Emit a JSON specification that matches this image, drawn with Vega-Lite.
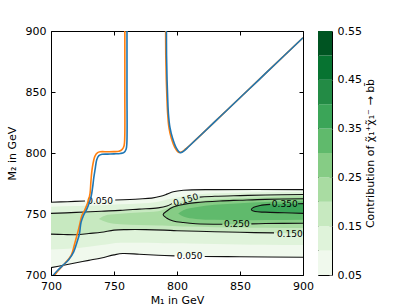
{
  "$schema": "https://vega.github.io/schema/vega-lite/v6.json",
  "padding": {"left": 5, "top": 24, "right": 5, "bottom": 2},
  "config": {
    "font": "DejaVu Sans",
    "view": {"stroke": "#000", "strokeWidth": 1},
    "axis": {"labelFont": "DejaVu Sans", "titleFont": "DejaVu Sans", "labelFontSize": 11, "titleFontSize": 11, "titleFontWeight": "normal", "labelColor": "#000", "titleColor": "#000", "tickColor": "#000", "grid": false, "domain": false, "labelFlush": false}
  },
  "datasets": {
    "bands": [
      {"level": 0.05, "M1": 700, "lo": 706, "hi": 759.6},
      {"level": 0.05, "M1": 720, "lo": 710, "hi": 760.3},
      {"level": 0.05, "M1": 740, "lo": 714, "hi": 761},
      {"level": 0.05, "M1": 755, "lo": 717.5, "hi": 761.7},
      {"level": 0.05, "M1": 770, "lo": 717, "hi": 762.3},
      {"level": 0.05, "M1": 785, "lo": 716.2, "hi": 764.3},
      {"level": 0.05, "M1": 792, "lo": 716, "hi": 766.5},
      {"level": 0.05, "M1": 800, "lo": 715.6, "hi": 768.8},
      {"level": 0.05, "M1": 810, "lo": 715.4, "hi": 769.6},
      {"level": 0.05, "M1": 830, "lo": 715.2, "hi": 770},
      {"level": 0.05, "M1": 850, "lo": 715, "hi": 770},
      {"level": 0.05, "M1": 870, "lo": 714.8, "hi": 770},
      {"level": 0.05, "M1": 900, "lo": 714.5, "hi": 770},
      {"level": 0.1, "M1": 700, "lo": 721, "hi": 756},
      {"level": 0.1, "M1": 720, "lo": 722, "hi": 756.5},
      {"level": 0.1, "M1": 740, "lo": 724.5, "hi": 757.2},
      {"level": 0.1, "M1": 755, "lo": 726.5, "hi": 758},
      {"level": 0.1, "M1": 770, "lo": 726.5, "hi": 758.6},
      {"level": 0.1, "M1": 785, "lo": 726.2, "hi": 760},
      {"level": 0.1, "M1": 792, "lo": 726, "hi": 761.8},
      {"level": 0.1, "M1": 800, "lo": 726, "hi": 763.5},
      {"level": 0.1, "M1": 810, "lo": 725.8, "hi": 765.3},
      {"level": 0.1, "M1": 830, "lo": 725.5, "hi": 767},
      {"level": 0.1, "M1": 850, "lo": 725, "hi": 767.5},
      {"level": 0.1, "M1": 870, "lo": 724.8, "hi": 767.8},
      {"level": 0.1, "M1": 900, "lo": 724.5, "hi": 768},
      {"level": 0.15, "M1": 700, "lo": 733.5, "hi": 750.5},
      {"level": 0.15, "M1": 720, "lo": 733, "hi": 751.3},
      {"level": 0.15, "M1": 740, "lo": 735, "hi": 752.3},
      {"level": 0.15, "M1": 755, "lo": 737, "hi": 753},
      {"level": 0.15, "M1": 770, "lo": 737.2, "hi": 754},
      {"level": 0.15, "M1": 785, "lo": 737, "hi": 755},
      {"level": 0.15, "M1": 792, "lo": 736.8, "hi": 756.5},
      {"level": 0.15, "M1": 800, "lo": 736.3, "hi": 759.5},
      {"level": 0.15, "M1": 810, "lo": 736, "hi": 762},
      {"level": 0.15, "M1": 830, "lo": 735.5, "hi": 764.5},
      {"level": 0.15, "M1": 850, "lo": 735, "hi": 765.1},
      {"level": 0.15, "M1": 870, "lo": 734.5, "hi": 765.6},
      {"level": 0.15, "M1": 900, "lo": 734, "hi": 766},
      {"level": 0.2, "M1": 738, "lo": 746, "hi": 746},
      {"level": 0.2, "M1": 745, "lo": 743, "hi": 749.3},
      {"level": 0.2, "M1": 755, "lo": 741.5, "hi": 750.3},
      {"level": 0.2, "M1": 770, "lo": 741, "hi": 751.2},
      {"level": 0.2, "M1": 785, "lo": 740.5, "hi": 752.3},
      {"level": 0.2, "M1": 792, "lo": 740.3, "hi": 754.5},
      {"level": 0.2, "M1": 800, "lo": 740, "hi": 757.3},
      {"level": 0.2, "M1": 810, "lo": 739.7, "hi": 759.4},
      {"level": 0.2, "M1": 830, "lo": 739.2, "hi": 761.9},
      {"level": 0.2, "M1": 850, "lo": 739, "hi": 763},
      {"level": 0.2, "M1": 870, "lo": 738.7, "hi": 763.8},
      {"level": 0.2, "M1": 900, "lo": 738.5, "hi": 764.5},
      {"level": 0.25, "M1": 789, "lo": 749.5, "hi": 749.5},
      {"level": 0.25, "M1": 792, "lo": 747, "hi": 752.5},
      {"level": 0.25, "M1": 797, "lo": 744.3, "hi": 755.7},
      {"level": 0.25, "M1": 805, "lo": 743, "hi": 757.8},
      {"level": 0.25, "M1": 815, "lo": 742, "hi": 759.3},
      {"level": 0.25, "M1": 834, "lo": 741.5, "hi": 760.7},
      {"level": 0.25, "M1": 850, "lo": 741.8, "hi": 761.3},
      {"level": 0.25, "M1": 870, "lo": 742.2, "hi": 762},
      {"level": 0.25, "M1": 900, "lo": 742.4, "hi": 762.5},
      {"level": 0.3, "M1": 801, "lo": 750.5, "hi": 750.5},
      {"level": 0.3, "M1": 805, "lo": 748, "hi": 753},
      {"level": 0.3, "M1": 815, "lo": 746, "hi": 755.5},
      {"level": 0.3, "M1": 830, "lo": 745.2, "hi": 757.5},
      {"level": 0.3, "M1": 850, "lo": 744.8, "hi": 758.8},
      {"level": 0.3, "M1": 870, "lo": 745, "hi": 759.8},
      {"level": 0.3, "M1": 900, "lo": 745.3, "hi": 760.5},
      {"level": 0.35, "M1": 859, "lo": 753.5, "hi": 753.5},
      {"level": 0.35, "M1": 863, "lo": 752, "hi": 756},
      {"level": 0.35, "M1": 870, "lo": 751.5, "hi": 757.7},
      {"level": 0.35, "M1": 885, "lo": 751, "hi": 758.2},
      {"level": 0.35, "M1": 900, "lo": 750.5, "hi": 758.5}
    ],
    "clines": [
      {"seg": "a1", "i": 0, "M1": 700, "M2": 759.6},
      {"seg": "a1", "i": 1, "M1": 713, "M2": 760.1},
      {"seg": "a1", "i": 2, "M1": 727, "M2": 760.6},
      {"seg": "a2", "i": 0, "M1": 751, "M2": 761.5},
      {"seg": "a2", "i": 1, "M1": 770, "M2": 762.3},
      {"seg": "a2", "i": 2, "M1": 780, "M2": 763},
      {"seg": "a2", "i": 3, "M1": 787, "M2": 764.5},
      {"seg": "a2", "i": 4, "M1": 792, "M2": 766.3},
      {"seg": "a2", "i": 5, "M1": 797, "M2": 768.3},
      {"seg": "a2", "i": 6, "M1": 805, "M2": 769.5},
      {"seg": "a2", "i": 7, "M1": 830, "M2": 770},
      {"seg": "a2", "i": 8, "M1": 900, "M2": 770},
      {"seg": "b1", "i": 0, "M1": 700, "M2": 706},
      {"seg": "b1", "i": 1, "M1": 710, "M2": 708},
      {"seg": "b1", "i": 2, "M1": 720, "M2": 710},
      {"seg": "b1", "i": 3, "M1": 730, "M2": 712},
      {"seg": "b1", "i": 4, "M1": 740, "M2": 714},
      {"seg": "b1", "i": 5, "M1": 750, "M2": 716.5},
      {"seg": "b1", "i": 6, "M1": 757, "M2": 717.6},
      {"seg": "b1", "i": 7, "M1": 770, "M2": 717},
      {"seg": "b1", "i": 8, "M1": 785, "M2": 716.2},
      {"seg": "b1", "i": 9, "M1": 798, "M2": 715.7},
      {"seg": "b2", "i": 0, "M1": 822, "M2": 715.2},
      {"seg": "b2", "i": 1, "M1": 850, "M2": 715},
      {"seg": "b2", "i": 2, "M1": 900, "M2": 714.5},
      {"seg": "c1", "i": 0, "M1": 700, "M2": 750.5},
      {"seg": "c1", "i": 1, "M1": 720, "M2": 751.3},
      {"seg": "c1", "i": 2, "M1": 740, "M2": 752.3},
      {"seg": "c1", "i": 3, "M1": 755, "M2": 753},
      {"seg": "c1", "i": 4, "M1": 770, "M2": 754},
      {"seg": "c1", "i": 5, "M1": 785, "M2": 755},
      {"seg": "c1", "i": 6, "M1": 792, "M2": 756.5},
      {"seg": "c1", "i": 7, "M1": 796, "M2": 758.5},
      {"seg": "c2", "i": 0, "M1": 818, "M2": 763.8},
      {"seg": "c2", "i": 1, "M1": 830, "M2": 764.5},
      {"seg": "c2", "i": 2, "M1": 850, "M2": 765.1},
      {"seg": "c2", "i": 3, "M1": 870, "M2": 765.6},
      {"seg": "c2", "i": 4, "M1": 900, "M2": 766},
      {"seg": "d1", "i": 0, "M1": 700, "M2": 733.5},
      {"seg": "d1", "i": 1, "M1": 710, "M2": 733.2},
      {"seg": "d1", "i": 2, "M1": 720, "M2": 733},
      {"seg": "d1", "i": 3, "M1": 730, "M2": 734},
      {"seg": "d1", "i": 4, "M1": 740, "M2": 735},
      {"seg": "d1", "i": 5, "M1": 750, "M2": 736.8},
      {"seg": "d1", "i": 6, "M1": 760, "M2": 737.2},
      {"seg": "d1", "i": 7, "M1": 775, "M2": 737.2},
      {"seg": "d1", "i": 8, "M1": 790, "M2": 736.8},
      {"seg": "d1", "i": 9, "M1": 800, "M2": 736.3},
      {"seg": "d1", "i": 10, "M1": 830, "M2": 735.5},
      {"seg": "d1", "i": 11, "M1": 850, "M2": 735},
      {"seg": "d1", "i": 12, "M1": 877, "M2": 734.5},
      {"seg": "e1", "i": 0, "M1": 836, "M2": 741.6},
      {"seg": "e1", "i": 1, "M1": 815, "M2": 742},
      {"seg": "e1", "i": 2, "M1": 805, "M2": 743},
      {"seg": "e1", "i": 3, "M1": 797, "M2": 744.3},
      {"seg": "e1", "i": 4, "M1": 792, "M2": 746.5},
      {"seg": "e1", "i": 5, "M1": 789, "M2": 749.5},
      {"seg": "e1", "i": 6, "M1": 792, "M2": 752.5},
      {"seg": "e1", "i": 7, "M1": 797, "M2": 755.7},
      {"seg": "e1", "i": 8, "M1": 805, "M2": 757.8},
      {"seg": "e1", "i": 9, "M1": 815, "M2": 759.3},
      {"seg": "e1", "i": 10, "M1": 834, "M2": 760.7},
      {"seg": "e1", "i": 11, "M1": 850, "M2": 761.3},
      {"seg": "e1", "i": 12, "M1": 870, "M2": 762},
      {"seg": "e1", "i": 13, "M1": 900, "M2": 762.5},
      {"seg": "e2", "i": 0, "M1": 859, "M2": 741.9},
      {"seg": "e2", "i": 1, "M1": 870, "M2": 742.2},
      {"seg": "e2", "i": 2, "M1": 900, "M2": 742.4},
      {"seg": "f1", "i": 0, "M1": 874, "M2": 757.9},
      {"seg": "f1", "i": 1, "M1": 866, "M2": 757},
      {"seg": "f1", "i": 2, "M1": 861, "M2": 755.5},
      {"seg": "f1", "i": 3, "M1": 859, "M2": 753.5},
      {"seg": "f1", "i": 4, "M1": 862, "M2": 752},
      {"seg": "f1", "i": 5, "M1": 870, "M2": 751.5},
      {"seg": "f1", "i": 6, "M1": 885, "M2": 751},
      {"seg": "f1", "i": 7, "M1": 900, "M2": 750.5},
      {"seg": "f2", "i": 0, "M1": 896, "M2": 758.4},
      {"seg": "f2", "i": 1, "M1": 900, "M2": 758.5}
    ],
    "curves": [
      {"c": "orange", "seg": "L", "i": 0, "M1": 703, "M2": 700},
      {"c": "orange", "seg": "L", "i": 1, "M1": 706, "M2": 704},
      {"c": "orange", "seg": "L", "i": 2, "M1": 711, "M2": 709.5},
      {"c": "orange", "seg": "L", "i": 3, "M1": 716, "M2": 716},
      {"c": "orange", "seg": "L", "i": 4, "M1": 719, "M2": 726.5},
      {"c": "orange", "seg": "L", "i": 5, "M1": 721, "M2": 734},
      {"c": "orange", "seg": "L", "i": 6, "M1": 722.5, "M2": 740.2},
      {"c": "orange", "seg": "L", "i": 7, "M1": 724.4, "M2": 748.4},
      {"c": "orange", "seg": "L", "i": 8, "M1": 727, "M2": 753.8},
      {"c": "orange", "seg": "L", "i": 9, "M1": 729.6, "M2": 760.7},
      {"c": "orange", "seg": "L", "i": 10, "M1": 731, "M2": 767},
      {"c": "orange", "seg": "L", "i": 11, "M1": 731.7, "M2": 777},
      {"c": "orange", "seg": "L", "i": 12, "M1": 732.8, "M2": 788},
      {"c": "orange", "seg": "L", "i": 13, "M1": 734.9, "M2": 797.5},
      {"c": "orange", "seg": "L", "i": 14, "M1": 737, "M2": 800.3},
      {"c": "orange", "seg": "L", "i": 15, "M1": 739, "M2": 801},
      {"c": "orange", "seg": "L", "i": 16, "M1": 745, "M2": 801},
      {"c": "orange", "seg": "L", "i": 17, "M1": 750, "M2": 801.1},
      {"c": "orange", "seg": "L", "i": 18, "M1": 754, "M2": 801.5},
      {"c": "orange", "seg": "L", "i": 19, "M1": 756.5, "M2": 803},
      {"c": "orange", "seg": "L", "i": 20, "M1": 758, "M2": 806},
      {"c": "orange", "seg": "L", "i": 21, "M1": 758.5, "M2": 812},
      {"c": "orange", "seg": "L", "i": 22, "M1": 758.6, "M2": 850},
      {"c": "orange", "seg": "L", "i": 23, "M1": 758.6, "M2": 905},
      {"c": "orange", "seg": "R", "i": 0, "M1": 791, "M2": 905},
      {"c": "orange", "seg": "R", "i": 1, "M1": 791.1, "M2": 880},
      {"c": "orange", "seg": "R", "i": 2, "M1": 791.5, "M2": 860},
      {"c": "orange", "seg": "R", "i": 3, "M1": 792, "M2": 845},
      {"c": "orange", "seg": "R", "i": 4, "M1": 792.6, "M2": 832},
      {"c": "orange", "seg": "R", "i": 5, "M1": 793.6, "M2": 821},
      {"c": "orange", "seg": "R", "i": 6, "M1": 795.5, "M2": 812},
      {"c": "orange", "seg": "R", "i": 7, "M1": 798.3, "M2": 804.5},
      {"c": "orange", "seg": "R", "i": 8, "M1": 801.3, "M2": 800.6},
      {"c": "orange", "seg": "R", "i": 9, "M1": 804, "M2": 801},
      {"c": "orange", "seg": "R", "i": 10, "M1": 807, "M2": 803.5},
      {"c": "orange", "seg": "R", "i": 11, "M1": 812, "M2": 808},
      {"c": "orange", "seg": "R", "i": 12, "M1": 850, "M2": 845.3},
      {"c": "orange", "seg": "R", "i": 13, "M1": 900, "M2": 894.5},
      {"c": "blue", "seg": "L", "i": 0, "M1": 701.5, "M2": 699.5},
      {"c": "blue", "seg": "L", "i": 1, "M1": 705, "M2": 703.5},
      {"c": "blue", "seg": "L", "i": 2, "M1": 710, "M2": 708.5},
      {"c": "blue", "seg": "L", "i": 3, "M1": 714, "M2": 712.5},
      {"c": "blue", "seg": "L", "i": 4, "M1": 718, "M2": 719},
      {"c": "blue", "seg": "L", "i": 5, "M1": 720.5, "M2": 726.5},
      {"c": "blue", "seg": "L", "i": 6, "M1": 722.5, "M2": 733.4},
      {"c": "blue", "seg": "L", "i": 7, "M1": 723.8, "M2": 742.9},
      {"c": "blue", "seg": "L", "i": 8, "M1": 725.6, "M2": 748.4},
      {"c": "blue", "seg": "L", "i": 9, "M1": 728.3, "M2": 753.8},
      {"c": "blue", "seg": "L", "i": 10, "M1": 730.4, "M2": 759.3},
      {"c": "blue", "seg": "L", "i": 11, "M1": 732, "M2": 765},
      {"c": "blue", "seg": "L", "i": 12, "M1": 733, "M2": 771.6},
      {"c": "blue", "seg": "L", "i": 13, "M1": 734, "M2": 780},
      {"c": "blue", "seg": "L", "i": 14, "M1": 735, "M2": 786.5},
      {"c": "blue", "seg": "L", "i": 15, "M1": 736.3, "M2": 794.5},
      {"c": "blue", "seg": "L", "i": 16, "M1": 738, "M2": 797.8},
      {"c": "blue", "seg": "L", "i": 17, "M1": 740.5, "M2": 798.9},
      {"c": "blue", "seg": "L", "i": 18, "M1": 745, "M2": 799.1},
      {"c": "blue", "seg": "L", "i": 19, "M1": 750, "M2": 799.3},
      {"c": "blue", "seg": "L", "i": 20, "M1": 755, "M2": 799.6},
      {"c": "blue", "seg": "L", "i": 21, "M1": 758, "M2": 800.5},
      {"c": "blue", "seg": "L", "i": 22, "M1": 759.6, "M2": 803},
      {"c": "blue", "seg": "L", "i": 23, "M1": 760.2, "M2": 808},
      {"c": "blue", "seg": "L", "i": 24, "M1": 760.3, "M2": 850},
      {"c": "blue", "seg": "L", "i": 25, "M1": 760.3, "M2": 905},
      {"c": "blue", "seg": "R", "i": 0, "M1": 791.6, "M2": 905},
      {"c": "blue", "seg": "R", "i": 1, "M1": 791.7, "M2": 880},
      {"c": "blue", "seg": "R", "i": 2, "M1": 792.1, "M2": 860},
      {"c": "blue", "seg": "R", "i": 3, "M1": 792.6, "M2": 845},
      {"c": "blue", "seg": "R", "i": 4, "M1": 793.2, "M2": 832},
      {"c": "blue", "seg": "R", "i": 5, "M1": 794.4, "M2": 821},
      {"c": "blue", "seg": "R", "i": 6, "M1": 796.5, "M2": 812},
      {"c": "blue", "seg": "R", "i": 7, "M1": 799.5, "M2": 804},
      {"c": "blue", "seg": "R", "i": 8, "M1": 802.5, "M2": 800.3},
      {"c": "blue", "seg": "R", "i": 9, "M1": 805, "M2": 801.3},
      {"c": "blue", "seg": "R", "i": 10, "M1": 808, "M2": 804},
      {"c": "blue", "seg": "R", "i": 11, "M1": 812, "M2": 808},
      {"c": "blue", "seg": "R", "i": 12, "M1": 820, "M2": 815.8},
      {"c": "blue", "seg": "R", "i": 13, "M1": 835, "M2": 830.5},
      {"c": "blue", "seg": "R", "i": 14, "M1": 850, "M2": 845.3},
      {"c": "blue", "seg": "R", "i": 15, "M1": 865, "M2": 860},
      {"c": "blue", "seg": "R", "i": 16, "M1": 880, "M2": 874.8},
      {"c": "blue", "seg": "R", "i": 17, "M1": 900, "M2": 894.5}
    ]
  },
  "spacing": 3,
  "hconcat": [
    {
      "width": 252,
      "height": 244,
      "resolve": {"axis": {"x": "independent", "y": "independent"}},
      "layer": [
        {
          "data": {"name": "bands"},
          "mark": {"type": "area", "interpolate": "monotone", "clip": true},
          "encoding": {
            "x": {"field": "M1", "type": "quantitative", "scale": {"domain": [700, 900], "nice": false, "zero": false},
                  "axis": {"orient": "bottom", "values": [700, 750, 800, 850, 900], "tickSize": -4, "labelPadding": 9, "title": "M₁ in GeV", "titlePadding": 3}},
            "y": {"field": "lo", "type": "quantitative", "scale": {"domain": [700, 900], "nice": false, "zero": false},
                  "axis": {"orient": "left", "values": [700, 750, 800, 850, 900], "tickSize": -4, "labelPadding": 9, "title": "M₂ in GeV", "titlePadding": 8}},
            "y2": {"field": "hi"},
            "color": {"field": "level", "type": "ordinal",
                      "scale": {"domain": [0.05, 0.1, 0.15, 0.2, 0.25, 0.3, 0.35, 0.4, 0.45, 0.5],
                                "range": ["#f0f9ed", "#dff3da", "#c7e9c0", "#a9dca2", "#86cc85", "#60ba6c", "#3ba558", "#238b45", "#077331", "#005422"]},
                      "legend": null}
          }
        },
        {
          "data": {"name": "clines"},
          "mark": {"type": "line", "color": "#111", "strokeWidth": 1.1, "interpolate": "catmull-rom", "clip": true},
          "encoding": {
            "x": {"field": "M1", "type": "quantitative", "axis": {"orient": "top", "values": [700, 750, 800, 850, 900], "tickSize": -4, "labels": false, "title": null}},
            "y": {"field": "M2", "type": "quantitative", "axis": {"orient": "right", "values": [700, 750, 800, 850, 900], "tickSize": -4, "labels": false, "title": null}},
            "detail": {"field": "seg"},
            "order": {"field": "i", "type": "quantitative"}
          }
        },
        {
          "data": {"values": [
            {"label": "0.050", "M1": 739, "M2": 760.9},
            {"label": "0.350", "M1": 885.5, "M2": 758},
            {"label": "0.250", "M1": 847.5, "M2": 742.1},
            {"label": "0.150", "M1": 889.5, "M2": 733.6},
            {"label": "0.050", "M1": 810, "M2": 715.5}
          ]},
          "mark": {"type": "text", "fontSize": 9, "align": "center", "baseline": "middle", "color": "#000"},
          "encoding": {
            "x": {"field": "M1", "type": "quantitative", "axis": null},
            "y": {"field": "M2", "type": "quantitative", "axis": null},
            "text": {"field": "label"}
          }
        },
        {
          "data": {"values": [{"label": "0.150", "M1": 807, "M2": 761.6}]},
          "mark": {"type": "text", "fontSize": 9, "align": "center", "baseline": "middle", "color": "#000", "angle": 344},
          "encoding": {
            "x": {"field": "M1", "type": "quantitative", "axis": null},
            "y": {"field": "M2", "type": "quantitative", "axis": null},
            "text": {"field": "label"}
          }
        },
        {
          "data": {"name": "curves"},
          "transform": [{"filter": "datum.c == 'orange'"}],
          "mark": {"type": "line", "color": "#ff7f0e", "strokeWidth": 1.6, "interpolate": "catmull-rom", "clip": true},
          "encoding": {
            "x": {"field": "M1", "type": "quantitative", "axis": null},
            "y": {"field": "M2", "type": "quantitative", "axis": null},
            "detail": {"field": "seg"},
            "order": {"field": "i", "type": "quantitative"}
          }
        },
        {
          "data": {"name": "curves"},
          "transform": [{"filter": "datum.c == 'blue'"}],
          "mark": {"type": "line", "color": "#1f77b4", "strokeWidth": 1.6, "interpolate": "catmull-rom", "clip": true},
          "encoding": {
            "x": {"field": "M1", "type": "quantitative", "axis": null},
            "y": {"field": "M2", "type": "quantitative", "axis": null},
            "detail": {"field": "seg"},
            "order": {"field": "i", "type": "quantitative"}
          }
        }
      ]
    },
    {
      "width": 14,
      "height": 244,
      "data": {"values": [
        {"level": 0.05, "top": 0.1},
        {"level": 0.1, "top": 0.15},
        {"level": 0.15, "top": 0.2},
        {"level": 0.2, "top": 0.25},
        {"level": 0.25, "top": 0.3},
        {"level": 0.3, "top": 0.35},
        {"level": 0.35, "top": 0.4},
        {"level": 0.4, "top": 0.45},
        {"level": 0.45, "top": 0.5},
        {"level": 0.5, "top": 0.55}
      ]},
      "mark": {"type": "rect"},
      "encoding": {
        "y": {"field": "level", "type": "quantitative", "scale": {"domain": [0.05, 0.55], "nice": false, "zero": false},
              "axis": {"orient": "right", "values": [0.05, 0.15, 0.25, 0.35, 0.45, 0.55], "format": ".2f", "tickSize": -3, "tickColor": "#777", "labelPadding": 8,
                       "title": "Contribution of χ̃₁⁺χ̃₁⁻ → bb̄", "titleAngle": 270, "titleBaseline": "top", "titlePadding": 3}},
        "y2": {"field": "top"},
        "color": {"field": "level", "type": "ordinal",
                  "scale": {"domain": [0.05, 0.1, 0.15, 0.2, 0.25, 0.3, 0.35, 0.4, 0.45, 0.5],
                            "range": ["#f0f9ed", "#dff3da", "#c7e9c0", "#a9dca2", "#86cc85", "#60ba6c", "#3ba558", "#238b45", "#077331", "#005422"]},
                  "legend": null}
      }
    }
  ]
}
